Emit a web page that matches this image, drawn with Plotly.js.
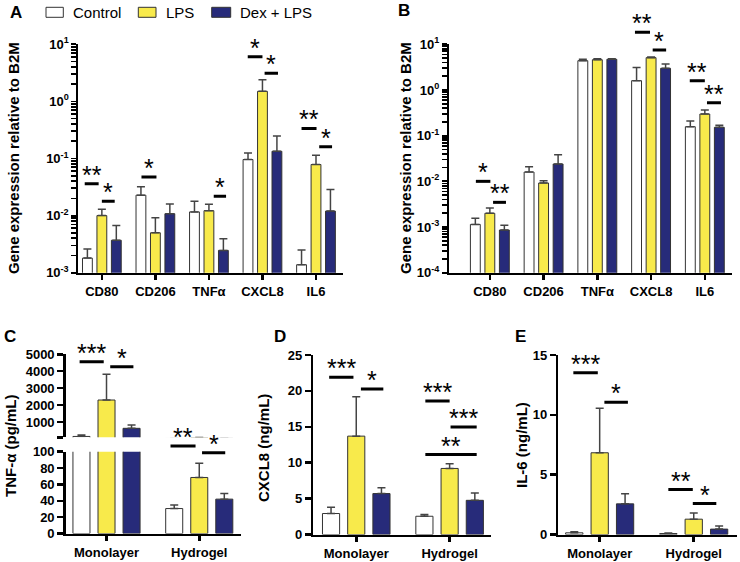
<!DOCTYPE html>
<html>
<head>
<meta charset="utf-8">
<script src="https://cdn.plot.ly/plotly-3.0.1.min.js"></script>
<style>
html, body { margin: 0; padding: 0; background: #fff; }
#chart { width: 740px; height: 562px; }
</style>
</head>
<body>
<div id="chart"></div>
<script>
// ---- data ----
var groups = ['Control', 'LPS', 'Dex + LPS'];

// A and B: gene expression relative to B2M (mean, upper SD)
var genes = ['CD80', 'CD206', 'TNFα', 'CXCL8', 'IL6'];
var aControl = [0.0018, 0.0228, 0.0116, 0.096, 0.00138];
var aControlErr = [0.0008, 0.0092, 0.0062, 0.029, 0.00112];
var aLPS = [0.0100, 0.0050, 0.0122, 1.5, 0.0785];
var aLPSErr = [0.0029, 0.0042, 0.0036, 0.9, 0.0355];
var aDex = [0.0037, 0.0108, 0.00246, 0.134, 0.0120];
var aDexErr = [0.0030, 0.0052, 0.00149, 0.113, 0.0166];

var bControl = [0.00114, 0.0160, 4.38, 1.6, 0.157];
var bControlErr = [0.00041, 0.0049, 0.32, 1.5, 0.053];
var bLPS = [0.0020, 0.0092, 4.6, 5.1, 0.298];
var bLPSErr = [0.0006, 0.0011, 0.25, 0.2, 0.067];
var bDex = [0.00086, 0.0240, 4.7, 2.98, 0.152];
var bDexErr = [0.00024, 0.0144, 0.1, 0.72, 0.016];

// C, D, E: secreted cytokines
var settings = ['Monolayer', 'Hydrogel'];
var cControl = [150, 30.5];
var cControlErr = [86, 4.3];
var cLPS = [2300, 68.5];
var cLPSErr = [1520, 17.5];
var cDex = [630, 42];
var cDexErr = [196, 7];

var dControl = [2.92, 2.54];
var dControlErr = [0.88, 0.26];
var dLPS = [13.7, 9.2];
var dLPSErr = [5.5, 0.64];
var dDex = [5.7, 4.76];
var dDexErr = [0.8, 1.02];

var eControl = [0.14, 0.08];
var eControlErr = [0.08, 0.04];
var eLPS = [6.83, 1.28];
var eLPSErr = [3.71, 0.52];
var eDex = [2.56, 0.45];
var eDexErr = [0.84, 0.25];

// significance brackets: [category, from offset, to offset, level, label]
var aSig = [[0, -0.32, -0.06, 0.036, '**'], [0, 0.0, 0.24, 0.0178, '*'],
            [1, -0.26, 0.02, 0.0476, '*'], [2, 0.09, 0.32, 0.0218, '*'],
            [3, -0.275, 0.0, 6.08, '*'], [3, 0.04, 0.29, 3.1, '*'],
            [4, -0.27, 0.01, 0.336, '**'], [4, 0.06, 0.30, 0.16, '*']];
var bSig = [[0, -0.26, 0.01, 0.010, '*'], [0, 0.06, 0.30, 0.00347, '**'],
            [3, -0.30, -0.02, 18.3, '**'], [3, 0.03, 0.28, 7.5, '*'],
            [4, -0.28, 0.0, 1.6, '**'], [4, 0.04, 0.30, 0.528, '**']];
var cTopSig = [[0, -0.29, -0.03, 4560, '***'], [0, 0.04, 0.29, 4270, '*']];
var cBottomSig = [[1, -0.31, -0.04, 107, '**'], [1, 0.03, 0.28, 98.8, '*']];
var dSig = [[0, -0.29, -0.03, 21.9, '***'], [0, 0.05, 0.29, 20.25, '*'],
            [1, -0.26, 0.0, 18.6, '***'], [1, 0.01, 0.29, 14.98, '***'],
            [1, -0.26, 0.29, 11.14, '**']];
var eSig = [[0, -0.28, -0.02, 13.52, '***'], [0, 0.05, 0.30, 11.05, '*'],
            [1, -0.27, -0.01, 3.76, '**'], [1, -0.01, 0.24, 2.59, '*']];

// ---- styling ----
var W = 740, H = 562;
function px(x) { return x / W; }
function py(y) { return 1 - y / H; }

var FONT = 'Liberation Sans, Arial, Helvetica, sans-serif';
var colors = ['#ffffff', '#f8ea4b', '#272b7a'];

function barTrace(cats, vals, errs, i, xa, ya) {
    return {
        type: 'bar', x: cats, y: vals, xaxis: xa, yaxis: ya, name: groups[i],
        marker: { color: colors[i], line: { color: '#333', width: 1 } },
        error_y: { type: 'data', symmetric: false, array: errs, arrayminus: errs.map(function () { return 0; }),
                   color: '#444', thickness: 1.5, width: 4 },
        showlegend: false, hoverinfo: 'skip'
    };
}

var data = [
    barTrace(genes, aControl, aControlErr, 0, 'x', 'y'),
    barTrace(genes, aLPS, aLPSErr, 1, 'x', 'y'),
    barTrace(genes, aDex, aDexErr, 2, 'x', 'y'),
    barTrace(genes, bControl, bControlErr, 0, 'x2', 'y2'),
    barTrace(genes, bLPS, bLPSErr, 1, 'x2', 'y2'),
    barTrace(genes, bDex, bDexErr, 2, 'x2', 'y2'),
    barTrace(settings, cControl, cControlErr, 0, 'x3', 'y3'),
    barTrace(settings, cLPS, cLPSErr, 1, 'x3', 'y3'),
    barTrace(settings, cDex, cDexErr, 2, 'x3', 'y3'),
    barTrace(settings, cControl, cControlErr, 0, 'x4', 'y4'),
    barTrace(settings, cLPS, cLPSErr, 1, 'x4', 'y4'),
    barTrace(settings, cDex, cDexErr, 2, 'x4', 'y4'),
    barTrace(settings, dControl, dControlErr, 0, 'x5', 'y5'),
    barTrace(settings, dLPS, dLPSErr, 1, 'x5', 'y5'),
    barTrace(settings, dDex, dDexErr, 2, 'x5', 'y5'),
    barTrace(settings, eControl, eControlErr, 0, 'x6', 'y6'),
    barTrace(settings, eLPS, eLPSErr, 1, 'x6', 'y6'),
    barTrace(settings, eDex, eDexErr, 2, 'x6', 'y6')
];

var tickFont = { family: FONT, size: 13, color: '#000', weight: 700 };

function xAxis(left, right, range, anchor, hidden) {
    return {
        domain: [px(left), px(right)], anchor: anchor, type: 'category', range: range,
        showline: !hidden, linecolor: '#000', linewidth: 2.5,
        ticks: hidden ? '' : 'outside', ticklen: 5, tickwidth: 2.5, tickcolor: '#000',
        showticklabels: !hidden, tickfont: tickFont, showgrid: false, zeroline: false, fixedrange: true
    };
}

function yAxis(top, bottom, range, anchor, extra) {
    var ax = {
        domain: [py(bottom), py(top)], anchor: anchor, range: range,
        showline: true, linecolor: '#000', linewidth: 2.5,
        ticks: 'outside', ticklen: 6, tickwidth: 2.5, tickcolor: '#000',
        tickfont: tickFont, showgrid: false, zeroline: false, fixedrange: true
    };
    for (var k in extra) ax[k] = extra[k];
    return ax;
}

// log axes: ticks at every 1..9 x 10^n, label only at the decades
function logExtra(decades) {
    var vals = [], text = [];
    decades.forEach(function (d, i) {
        vals.push(d);
        text.push('10<sup>' + Math.round(Math.log10(d)) + '</sup>');
        if (i < decades.length - 1) {
            for (var k = 2; k <= 9; k++) { vals.push(k * d); text.push(''); }
        }
    });
    return { type: 'log', tickmode: 'array', tickvals: vals, ticktext: text, ticklen: 4.5, tickwidth: 1.8 };
}

var aDecades = [1e-3, 1e-2, 1e-1, 1, 10];
var bDecades = [1e-4, 1e-3, 1e-2, 1e-1, 1, 10];

var layout = {
    width: W, height: H,
    margin: { l: 0, r: 0, t: 0, b: 0 },
    paper_bgcolor: '#fff', plot_bgcolor: 'rgba(0,0,0,0)',
    font: { family: FONT, color: '#000' },
    barmode: 'group', bargap: 0.19, bargroupgap: 0.32,
    showlegend: false,
    xaxis: xAxis(78.3, 343.3, [-0.44, 4.51], 'y'),
    yaxis: yAxis(44.3, 272.7, [-3, 1], 'x', logExtra(aDecades)),
    xaxis2: xAxis(449, 731.7, [-0.76, 4.5], 'y2'),
    yaxis2: yAxis(44.3, 272.7, [-4, 1], 'x2', logExtra(bDecades)),
    xaxis3: xAxis(65.7, 241, [-0.44, 1.45], 'y3', true),
    yaxis3: yAxis(354.3, 437.3, [100, 5000], 'x3', { tickmode: 'array', tickvals: [100, 1000, 2000, 3000, 4000, 5000],
                                                    ticktext: ['', '1000', '2000', '3000', '4000', '5000'] }),
    xaxis4: xAxis(65.7, 241, [-0.44, 1.45], 'y4'),
    yaxis4: yAxis(451.7, 533.5, [0, 100], 'x4', { dtick: 20 }),
    xaxis5: xAxis(313.3, 490.7, [-0.46, 1.44], 'y5'),
    yaxis5: yAxis(355, 534.5, [0, 25], 'x5', { dtick: 5 }),
    xaxis6: xAxis(558.3, 737, [-0.44, 1.46], 'y6'),
    yaxis6: yAxis(355, 534.5, [0, 15], 'x6', { dtick: 5 }),
    shapes: [],
    annotations: []
};

// significance bars and stars
function addSig(list, xa, ya, range, isLog) {
    list.forEach(function (s) {
        var v = isLog ? Math.log10(s[3]) : s[3];
        var f = (v - range[0]) / (range[1] - range[0]);
        layout.shapes.push({ type: 'line', xref: xa, yref: ya + ' domain', x0: s[0] + s[1], x1: s[0] + s[2],
                             y0: f, y1: f, line: { color: '#000', width: 3 } });
        layout.annotations.push({ xref: xa, yref: ya + ' domain', x: s[0] + (s[1] + s[2]) / 2, y: f,
                                  text: s[4], showarrow: false, yanchor: 'bottom', yshift: -7,
                                  font: { family: FONT, size: 25, color: '#000' } });
    });
}
addSig(aSig, 'x', 'y', [-3, 1], true);
addSig(bSig, 'x2', 'y2', [-4, 1], true);
addSig(cTopSig, 'x3', 'y3', [100, 5000], false);
addSig(cBottomSig, 'x4', 'y4', [0, 100], false);
addSig(dSig, 'x5', 'y5', [0, 25], false);
addSig(eSig, 'x6', 'y6', [0, 15], false);

// axis titles
function vTitle(text, x, y) {
    layout.annotations.push({ xref: 'paper', yref: 'paper', x: px(x), y: py(y), text: text, textangle: -90,
                              showarrow: false, xanchor: 'center', yanchor: 'middle',
                              font: { family: FONT, size: 15, color: '#000', weight: 700 } });
}
vTitle('Gene expression relative to B2M', 13, 158);
vTitle('Gene expression relative to B2M', 405, 158);
vTitle('TNF-α (pg/mL)', 10, 446);
vTitle('CXCL8 (ng/mL)', 263, 448);
vTitle('IL-6 (ng/mL)', 522, 445);

// panel letters
[['A', 16, 12], ['B', 404, 11], ['C', 10, 336], ['D', 280, 336], ['E', 520, 336]].forEach(function (p) {
    layout.annotations.push({ xref: 'paper', yref: 'paper', x: px(p[1]), y: py(p[2]), text: p[0],
                              showarrow: false, xanchor: 'center', yanchor: 'middle',
                              font: { family: FONT, size: 17, color: '#000', weight: 700 } });
});

// legend
var legendBoxes = [[46, 63.3, 71], [138.3, 156, 164], [211.7, 230.7, 238]];
legendBoxes.forEach(function (b, i) {
    layout.shapes.push({ type: 'rect', xref: 'paper', yref: 'paper', x0: px(b[0]), x1: px(b[1]),
                         y0: py(17.3), y1: py(7.3), fillcolor: colors[i], line: { color: '#333', width: 1 } });
    layout.annotations.push({ xref: 'paper', yref: 'paper', x: px(b[2]), y: py(12.3), text: groups[i],
                              showarrow: false, xanchor: 'left', yanchor: 'middle',
                              font: { family: FONT, size: 15, color: '#000' } });
});

Plotly.newPlot('chart', data, layout, { displayModeBar: false, staticPlot: true });
</script>
</body>
</html>
